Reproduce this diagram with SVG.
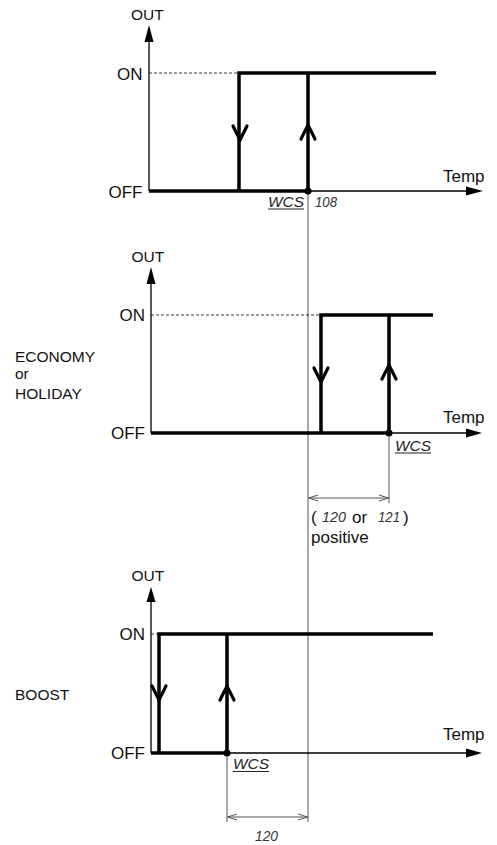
<svg xmlns="http://www.w3.org/2000/svg" width="497" height="845" viewBox="0 0 497 845">
<style>
.bg{fill:#fff}
.ax{stroke:#000;stroke-width:1.3;fill:none}
.ah{fill:#000;stroke:none}
.th{stroke:#000;stroke-width:3.5;fill:none;stroke-linecap:butt}
.chev{stroke:#000;stroke-width:3.2;fill:none;stroke-linecap:round;stroke-linejoin:miter}
.dash{stroke:#000;stroke-width:0.8;stroke-dasharray:3,2;fill:none}
.ref{stroke:#555;stroke-width:1;fill:none}
.dim{stroke:#555;stroke-width:1;fill:none}
.t{font-family:"Liberation Sans",Arial,sans-serif;fill:#111}
.lg{font-size:17px}
.md{font-size:15.5px}
.wcs{font-family:"Liberation Sans",Arial,sans-serif;font-style:italic;font-size:15px;fill:#222}
.num{font-family:"Liberation Sans",Arial,sans-serif;font-style:italic;font-size:14.5px;fill:#333}
.ul{stroke:#222;stroke-width:1}
</style>
<rect class="bg" x="0" y="0" width="497" height="845"/>

<g id="connectors">
  <line class="ref" x1="308" y1="191" x2="308" y2="822"/>
  <line class="ref" x1="389" y1="433" x2="389" y2="503"/>
  <line class="ref" x1="227" y1="753" x2="227" y2="822"/>
  <line class="dim" x1="308" y1="498" x2="389" y2="498"/>
  <polyline class="dim" points="318,495 308.5,498 318,501"/>
  <polyline class="dim" points="379,495 388.5,498 379,501"/>
  <line class="dim" x1="227" y1="817" x2="308" y2="817"/>
  <polyline class="dim" points="237,814 227.5,817 237,820"/>
  <polyline class="dim" points="298,814 307.5,817 298,820"/>
</g>

<g id="panel1">
  <line class="ax" x1="149" y1="40" x2="149" y2="191"/>
  <polygon class="ah" points="149,25 144.5,42 153.5,42"/>
  <line class="ax" x1="149" y1="191" x2="468" y2="191"/>
  <polygon class="ah" points="483,191 466,186.5 466,195.5"/>
  <line class="dash" x1="149" y1="73" x2="239" y2="73"/>
  <polyline class="th" points="149,191 308,191"/>
  <polyline class="th" points="239,191 239,73 436,73"/>
  <line class="th" x1="308" y1="191" x2="308" y2="73"/>
  <polyline class="chev" points="233,126 240,140 247,126"/>
  <polyline class="chev" points="301,139 308,125 315,139"/>
  <circle cx="308" cy="191" r="3.5" fill="#000"/>
  <text class="t md" x="131" y="20">OUT</text>
  <text class="t lg" x="142.5" y="80" text-anchor="end">ON</text>
  <text class="t lg" x="142.5" y="197.5" text-anchor="end">OFF</text>
  <text class="t lg" x="443" y="182">Temp</text>
  <text class="wcs" x="268" y="206.5" textLength="36" lengthAdjust="spacingAndGlyphs">WCS</text>
  <line class="ul" x1="268" y1="209" x2="304" y2="209"/>
  <text class="num" x="315" y="206.5" textLength="22" lengthAdjust="spacingAndGlyphs">108</text>
</g>

<g id="panel2">
  <line class="ax" x1="151" y1="282" x2="151" y2="433"/>
  <polygon class="ah" points="151,267 146.5,284 155.5,284"/>
  <line class="ax" x1="151" y1="433" x2="468" y2="433"/>
  <polygon class="ah" points="482,433 466,428.5 466,437.5"/>
  <line class="dash" x1="151" y1="315" x2="321" y2="315"/>
  <polyline class="th" points="151,433 389,433"/>
  <polyline class="th" points="321,433 321,315 433,315"/>
  <line class="th" x1="389" y1="433" x2="389" y2="315"/>
  <polyline class="chev" points="314,368 321,382 328,368"/>
  <polyline class="chev" points="382,379 389,365 396,379"/>
  <circle cx="389" cy="433" r="3.5" fill="#000"/>
  <text class="t md" x="131.5" y="262">OUT</text>
  <text class="t lg" x="145" y="321" text-anchor="end">ON</text>
  <text class="t lg" x="145" y="438.5" text-anchor="end">OFF</text>
  <text class="t lg" x="443" y="423">Temp</text>
  <text class="t md" x="15" y="362">ECONOMY</text>
  <text class="t md" x="15" y="379">or</text>
  <text class="t md" x="15" y="398.5">HOLIDAY</text>
  <text class="wcs" x="395" y="450.5" textLength="36" lengthAdjust="spacingAndGlyphs">WCS</text>
  <line class="ul" x1="395" y1="453" x2="431" y2="453"/>
  <text class="t lg" x="311" y="523">(</text>
  <text class="num" x="322" y="522" textLength="24" lengthAdjust="spacingAndGlyphs">120</text>
  <text class="t lg" x="352" y="523">or</text>
  <text class="num" x="378" y="522" textLength="22" lengthAdjust="spacingAndGlyphs">121</text>
  <text class="t lg" x="403" y="523">)</text>
  <text class="t lg" x="311" y="543">positive</text>
</g>

<g id="panel3">
  <line class="ax" x1="151" y1="600" x2="151" y2="753"/>
  <polygon class="ah" points="151,587 146.5,602 155.5,602"/>
  <line class="ax" x1="151" y1="753" x2="468" y2="753"/>
  <polygon class="ah" points="482,753 466,748.5 466,757.5"/>
  <line class="dash" x1="151" y1="634" x2="159" y2="634"/>
  <polyline class="th" points="151,753 227,753"/>
  <polyline class="th" points="159,753 159,634 433,634"/>
  <line class="th" x1="227" y1="753" x2="227" y2="634"/>
  <polyline class="chev" points="152,686 159,700 166,686"/>
  <polyline class="chev" points="220,700 227,686 234,700"/>
  <circle cx="227" cy="753" r="3.5" fill="#000"/>
  <text class="t md" x="131.5" y="581">OUT</text>
  <text class="t lg" x="145" y="640" text-anchor="end">ON</text>
  <text class="t lg" x="145" y="758.5" text-anchor="end">OFF</text>
  <text class="t lg" x="443" y="740">Temp</text>
  <text class="t md" x="15" y="700">BOOST</text>
  <text class="wcs" x="233" y="769" textLength="36" lengthAdjust="spacingAndGlyphs">WCS</text>
  <line class="ul" x1="233" y1="771.5" x2="269" y2="771.5"/>
  <text class="num" x="255" y="841" textLength="23" lengthAdjust="spacingAndGlyphs">120</text>
</g>
</svg>
